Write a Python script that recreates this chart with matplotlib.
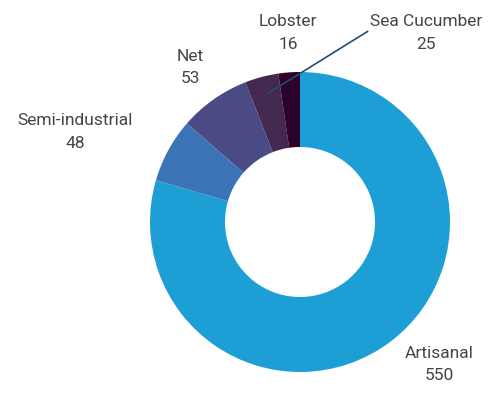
import matplotlib
matplotlib.use("Agg")
import matplotlib.pyplot as plt

categories = ["Artisanal", "Semi-industrial", "Net", "Sea Cucumber", "Lobster"]
values = [550, 48, 53, 25, 16]
colors = ["#1d9fd6", "#3b74b6", "#4a4b85", "#43284f", "#2b0229"]

# label anchors (data units, pie radius = 1)
label_pos = {
    "Artisanal": (0.93, -0.95),
    "Semi-industrial": (-1.5, 0.6),
    "Net": (-0.73, 1.03),
    "Lobster": (-0.08, 1.26),
    "Sea Cucumber": (0.84, 1.26),
}

plt.rcParams["font.family"] = ["Roboto", "DejaVu Sans"]

fig = plt.figure(figsize=(4.9, 3.96), dpi=100)
ax = fig.add_axes([150 / 490, 24 / 396, 300 / 490, 300 / 396])

ax.pie(
    values,
    colors=colors,
    startangle=90,
    counterclock=False,
    radius=1,
    wedgeprops={"width": 0.5, "linewidth": 0},
)

for name, val in zip(categories, values):
    x, y = label_pos[name]
    ax.text(x, y, f"{name}\n{val}", ha="center", va="center", fontsize=12.5,
            color="#454545", linespacing=1.6)

# leader line for the small Sea Cucumber slice
ax.plot([-0.21, 0.45], [0.86, 1.27], color="#1f4e79", lw=1.2, clip_on=False)

ax.set_xlim(-1, 1)
ax.set_ylim(-1, 1)
ax.set_aspect("equal")
ax.axis("off")

fig.savefig("out.png", dpi=100)
plt.close(fig)
